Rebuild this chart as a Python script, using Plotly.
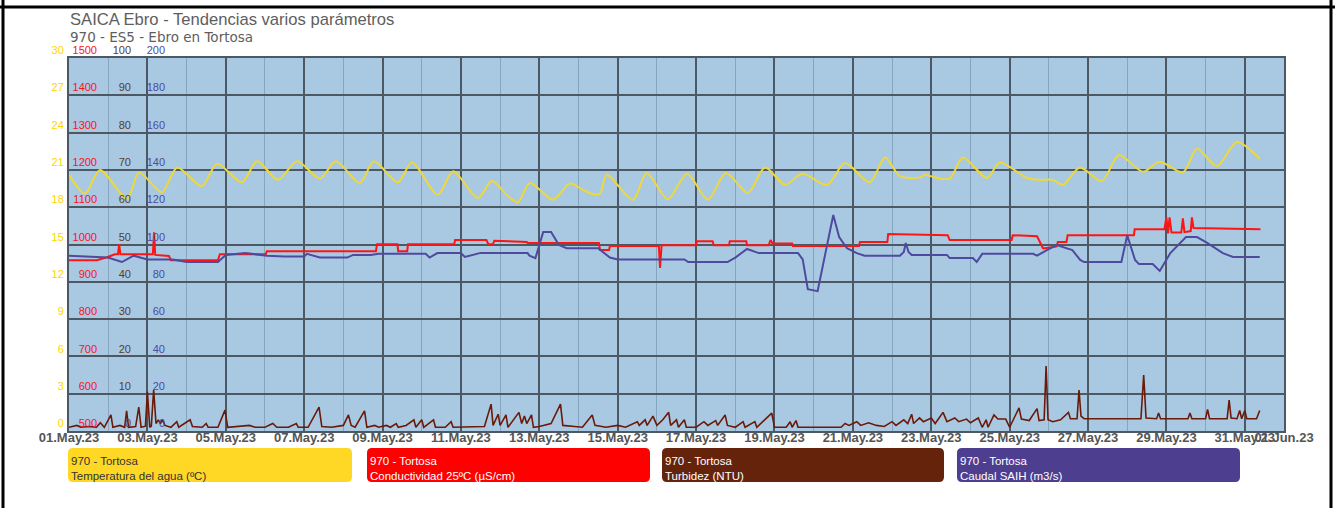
import pandas as pd
import plotly.graph_objects as go

# ---------------- data (days since 2023-05-01 00:00) ----------------
START = pd.Timestamp("2023-05-01")

temp_day = [0, 0.41, 0.79, 1.48, 1.79, 2.37, 2.76, 3.39, 3.78, 4.41,
            4.80, 5.33, 5.82, 6.40, 6.81, 7.42, 7.78, 8.39, 8.75, 9.41,
            9.80, 10.43, 10.79, 11.20, 11.45, 11.76, 12.35, 12.78, 13.11, 13.37,
            13.55, 13.72, 14.39, 14.74, 15.28, 15.77, 16.30, 16.76, 17.32, 17.76,
            18.27, 18.70, 19.34, 19.80, 20.43, 20.82, 21.20, 21.71, 21.84, 22.09,
            22.47, 22.81, 23.42, 23.75, 24.44, 24.77, 25.10, 25.36, 25.79, 26.35,
            26.79, 27.40, 27.83, 28.42, 28.78, 29.29, 29.80, 30.38]
temp_val = [20.6, 19.1, 21.0, 18.7, 20.8, 19.2, 21.2, 19.7, 21.5, 20.0,
            21.7, 20.2, 21.7, 20.3, 21.7, 19.95, 21.7, 20.0, 21.6, 19.0,
            20.9, 18.75, 20.1, 18.9, 18.4, 19.95, 18.6, 19.9, 19.4, 19.05,
            19.1, 20.6, 18.6, 20.75, 18.65, 20.7, 18.6, 20.75, 19.15, 21.2,
            19.8, 20.7, 19.8, 21.55, 20.0, 22.0, 20.5, 20.4, 20.6, 20.4,
            20.3, 22.0, 20.35, 21.6, 20.35, 20.2, 20.2, 19.8, 21.2, 20.1,
            22.2, 20.85, 21.65, 20.8, 22.7, 21.3, 23.25, 21.9]

cond_day = [0, 0.71, 0.97, 1.17, 1.25, 1.28, 1.31, 2.14, 2.17, 2.20,
            2.55, 2.6, 3.8, 3.85, 5.02, 5.05, 7.83, 7.86, 8.38, 8.4,
            8.63, 8.65, 9.83, 9.85, 10.65, 10.7, 10.82, 10.85, 11.68, 11.7,
            13.52, 13.55, 13.78, 13.8, 15.05, 15.08, 15.12, 16.0, 16.02, 16.42,
            16.45, 16.84, 16.86, 17.28, 17.3, 17.85, 17.9, 17.95, 18.45, 18.47,
            20.16, 20.18, 20.88, 20.9, 22.42, 22.47, 24.05, 24.08, 24.7, 24.85,
            24.9, 25.2, 25.23, 25.45, 25.48, 27.17, 27.19, 27.95, 28.0, 28.04,
            28.08, 28.13, 28.38, 28.42, 28.46, 28.62, 28.65, 28.69, 30.4]
cond_val = [958, 958, 966, 974, 974, 1001, 974, 974, 1033, 972,
            969, 958, 958, 974, 974, 982, 982, 1001, 1001, 982,
            982, 1001, 1001, 1012, 1012, 1001, 1001, 1010, 1007, 1004,
            1004, 985, 985, 996, 996, 937, 998, 998, 1009, 1009,
            998, 998, 1009, 1009, 998, 998, 1012, 1003, 1003, 996,
            996, 1007, 1007, 1028, 1025, 1012, 1012, 1025, 1022, 990,
            990, 995, 1007, 1007, 1025, 1025, 1041, 1041, 1073, 1030,
            1073, 1032, 1032, 1070, 1033, 1036, 1073, 1044, 1041]

turb_day = [0, 0.2, 0.3, 0.5, 0.7, 0.8, 0.9, 1.07, 1.12, 1.3,
            1.42, 1.47, 1.52, 1.7, 1.78, 1.84, 1.95, 2.0, 2.06, 2.1,
            2.16, 2.22, 2.28, 2.33, 2.38, 2.45, 2.6, 2.75, 2.8, 3.09,
            3.15, 3.4, 3.5, 3.55, 3.8, 3.98, 4.05, 4.3, 4.6, 4.75,
            5.0, 5.2, 5.3, 5.6, 5.8, 5.85, 6.1, 6.38, 6.45, 6.7,
            7.0, 7.13, 7.2, 7.3, 7.54, 7.6, 7.8, 7.9, 8.1, 8.2,
            8.35, 8.4, 8.6, 8.8, 8.85, 9.0, 9.05, 9.3, 9.35, 9.6,
            9.75, 9.8, 10.3, 10.6, 10.77, 10.82, 10.95, 11.0, 11.15, 11.2,
            11.48, 11.55, 11.62, 11.68, 11.8, 11.85, 12.0, 12.3, 12.54, 12.6,
            12.9, 13.1, 13.35, 13.42, 13.7, 14.0, 14.2, 14.5, 14.55, 14.7,
            14.75, 14.9, 15.0, 15.15, 15.3, 15.35, 15.5, 15.55, 15.7, 15.75,
            16.0, 16.2, 16.3, 16.5, 16.55, 16.74, 16.8, 17.0, 17.2, 17.25,
            17.5, 17.55, 17.93, 18.0, 18.3, 18.4, 18.45, 18.55, 18.6, 18.75,
            19.7, 19.8, 19.9, 20.1, 20.2, 20.4, 20.6, 20.8, 21.0, 21.1,
            21.3, 21.4, 21.5, 21.55, 21.7, 21.8, 22.0, 22.1, 22.3, 22.4,
            22.6, 22.7, 22.9, 23.0, 23.2, 23.3, 23.4, 23.45, 23.55, 23.6,
            23.7, 23.9, 24.0, 24.1, 24.24, 24.3, 24.5, 24.7, 24.75, 24.88,
            24.93, 24.98, 25.1, 25.3, 25.5, 25.55, 25.72, 25.77, 25.82, 25.9,
            27.35, 27.42, 27.48, 27.75, 27.8, 27.85, 28.55, 28.6, 28.65, 29.0,
            29.05, 29.1, 29.55, 29.6, 29.65, 29.8, 29.87, 29.92, 30.0, 30.05,
            30.3, 30.38]
turb_val = [1, 1.5, 1, 1.2, 1, 2.2, 1, 4.3, 1, 1.5,
            1, 5.4, 1, 1.2, 6.4, 1, 1.3, 10.5, 1, 1.3,
            11, 2, 3, 2, 3, 1.5, 1, 2.5, 1, 3,
            1.2, 1, 2, 1, 1, 5.6, 1, 1.2, 1.5, 1,
            1, 2, 1, 1, 2, 1, 1, 6.4, 1.2, 1,
            1.5, 4.3, 1.5, 1, 5.4, 1, 1.5, 1, 1.5, 1,
            2, 1, 1.5, 3, 1, 3, 1, 3, 1, 1,
            2.5, 1, 1, 1.2, 7.2, 1.5, 4.5, 1.5, 4.3, 1,
            5, 2, 4, 2, 4.3, 1, 1.2, 2, 7.2, 1.5,
            1.2, 1, 4.3, 1.5, 1, 1.5, 1, 2.5, 1.5, 3,
            1.5, 4, 1.5, 3, 5, 1.5, 3, 1, 3, 1,
            1, 2.5, 1.5, 2.8, 1.5, 4.3, 1.5, 1, 2.5, 1,
            2.5, 1, 4.8, 1, 1, 2.5, 1, 2.8, 1, 1,
            1, 2, 1.5, 2.5, 1.5, 2.2, 1.5, 1.2, 2.5, 1.5,
            3, 2, 4.5, 2, 3.5, 2.5, 3.5, 2, 5, 2.5,
            3.5, 2.5, 3.2, 2.2, 3.5, 1, 3, 1, 3.2, 4.3,
            3.2, 3.2, 1, 3.2, 6.2, 3.2, 2.8, 6, 2.8, 3,
            17.4, 3, 2.5, 3, 5, 3.3, 3.3, 11, 4, 3.3,
            3.3, 15, 3.5, 3.3, 4.8, 3.3, 3.3, 4.8, 3.3, 3.3,
            5.8, 3.3, 3.3, 8.3, 3.5, 3.3, 5.5, 3.3, 5.5, 3.3,
            3.3, 5.5]

flow_day = [0, 0.99, 1.35, 1.65, 2.0, 2.65, 3.0, 3.8, 4.0, 4.5,
            5.05, 5.5, 6.0, 6.07, 6.4, 7.1, 7.25, 7.7, 7.9, 9.1,
            9.2, 9.4, 10.0, 10.1, 10.5, 11.0, 11.7, 11.75, 11.9, 12.1,
            12.3, 12.5, 12.7, 13.5, 13.8, 14.0, 15.7, 15.8, 16.8, 17.0,
            17.3, 17.6, 18.6, 18.72, 18.85, 19.1, 19.25, 19.5, 19.65, 19.85,
            20.1, 20.3, 21.2, 21.3, 21.35, 21.42, 21.5, 22.4, 22.47, 23.06,
            23.16, 23.3, 24.6, 24.7, 24.95, 25.2, 25.6, 25.8, 25.9, 26.85,
            27.0, 27.2, 27.3, 27.65, 27.83, 28.1, 28.5, 28.78, 29.03, 29.44,
            29.7, 30.38]
flow_val = [94, 93, 90.6, 94, 92, 92, 90.6, 90.6, 94.4, 95.4,
            94, 93.5, 93.5, 95, 93, 93, 94.4, 94.4, 95, 95,
            93, 95.4, 95.4, 93.3, 95.5, 95.4, 95.4, 94, 92.7, 106.7,
            106.7, 99.7, 98, 98, 93, 92, 92, 90.6, 90.6, 93,
            97.6, 95.4, 95.4, 92, 76, 75, 90, 115.8, 104, 98,
            95.4, 94, 94, 96, 100.8, 96, 94.4, 94.4, 92.7, 92.7,
            90.6, 95, 95, 94, 97, 99.7, 97, 91.7, 90.6, 90.6,
            105, 91.7, 89.5, 89.5, 85.8, 95.4, 104, 104, 101, 95.4,
            93.3, 93.3]

tick_dates = ["2023-05-%02d" % d for d in range(1, 32, 2)] + ["2023-06-01"]
tick_text = ["%02d.May.23" % d for d in range(1, 32, 2)] + ["01.Jun.23"]

series_names = ["Temperatura del agua (ºC)", "Conductividad 25ºC (µS/cm)",
                "Turbidez (NTU)", "Caudal SAIH (m3/s)"]
station = "970 - Tortosa"


def to_time(days):
    return START + pd.to_timedelta(days, unit="D")


# ---------------- styling ----------------
C_TEMP = "#EED83A"
C_COND = "#FF1414"
C_TURB = "#6B1A0A"
C_FLOW = "#4E4A9E"
GRID = "#4C5864"
BG = "#A9C9E2"
FONT = "Liberation Sans, Arial, sans-serif"
FONT_WIDE = "DejaVu Sans, Verdana, sans-serif"

W, H = 1335, 508
L, R, T, B = 69, 51, 58, 77
PW, PH = W - L - R, H - T - B


def px(x):
    return (x - L) / PW


def py(y):
    return (H - B - y) / PH


fig = go.Figure()
fig.add_trace(go.Scatter(x=to_time(temp_day), y=temp_val, mode="lines",
                         line=dict(color=C_TEMP, width=2, shape="spline", smoothing=0.8),
                         yaxis="y", name=series_names[0]))
fig.add_trace(go.Scatter(x=to_time(cond_day), y=cond_val, mode="lines",
                         line=dict(color=C_COND, width=2),
                         yaxis="y2", name=series_names[1]))
fig.add_trace(go.Scatter(x=to_time(turb_day), y=turb_val, mode="lines",
                         line=dict(color=C_TURB, width=1.6),
                         yaxis="y3", name=series_names[2]))
fig.add_trace(go.Scatter(x=to_time(flow_day), y=flow_val, mode="lines",
                         line=dict(color=C_FLOW, width=2),
                         yaxis="y4", name=series_names[3]))

common_y = dict(ticks="", zeroline=False, showgrid=False,
                ticklabelposition="outside top", ticklabelstandoff=0)

fig.update_layout(
    width=W, height=H,
    margin=dict(l=L, r=R, t=T, b=B),
    paper_bgcolor="white", plot_bgcolor=BG,
    showlegend=False,
    font=dict(family=FONT),
    xaxis=dict(type="date", range=[START, pd.Timestamp("2023-06-01")],
               tickmode="array", tickvals=tick_dates, ticktext=tick_text, tickangle=0,
               tickfont=dict(size=13, color="#555555", family=FONT, weight="bold"),
               ticks="", showgrid=True, gridcolor=GRID, gridwidth=2,
               showline=True, linecolor=GRID, linewidth=2, mirror=True,
               zeroline=False, ticklabelstandoff=-7,
               minor=dict(tickmode="linear", tick0="2023-05-02", dtick=86400000,
                          showgrid=True, gridcolor="#86A6BF", gridwidth=1)),
    yaxis=dict(range=[0, 30], tickmode="array", tickvals=list(range(0, 31, 3)),
               tickfont=dict(size=11, color="#FFD400", family=FONT),
               ticks="", zeroline=False, showgrid=True, gridcolor=GRID, gridwidth=2,
               showline=True, linecolor=GRID, linewidth=2, mirror=True,
               ticklabelposition="outside top", ticklabelstandoff=1),
    yaxis2=dict(range=[500, 1500], tickmode="array", tickvals=list(range(500, 1501, 100)),
                overlaying="y", anchor="free", position=px(97), side="left",
                tickfont=dict(size=11, color="#F01818", family=FONT), **common_y),
    yaxis3=dict(range=[0, 100], tickmode="array", tickvals=list(range(0, 101, 10)),
                overlaying="y", anchor="free", position=px(131), side="left",
                tickfont=dict(size=11, color="#5A3A30", family=FONT), **common_y),
    yaxis4=dict(range=[0, 200], tickmode="array", tickvals=list(range(0, 201, 20)),
                overlaying="y", anchor="free", position=px(165), side="left",
                tickfont=dict(size=11, color="#4E4A9E", family=FONT), **common_y),
)

# title texts
fig.add_annotation(text="SAICA Ebro - Tendencias varios parámetros", xref="paper", yref="paper",
                   x=px(68), y=py(20), xanchor="left", yanchor="middle", showarrow=False,
                   font=dict(size=16.6, color="#5E5E5E", family=FONT))
fig.add_annotation(text="970 - ES5 - Ebro en Tortosa", xref="paper", yref="paper",
                   x=px(68), y=py(37), xanchor="left", yanchor="middle", showarrow=False,
                   font=dict(size=13.5, color="#5E5E5E", family=FONT_WIDE))


def rounded_rect(x0, y0, x1, y1, r=5):
    # pixel corners -> paper path
    def P(x, y):
        return "%.5f,%.5f" % (px(x), py(y))
    return ("M " + P(x0 + r, y0) + " L " + P(x1 - r, y0) + " Q " + P(x1, y0) + " " + P(x1, y0 + r) +
            " L " + P(x1, y1 - r) + " Q " + P(x1, y1) + " " + P(x1 - r, y1) +
            " L " + P(x0 + r, y1) + " Q " + P(x0, y1) + " " + P(x0, y1 - r) +
            " L " + P(x0, y0 + r) + " Q " + P(x0, y0) + " " + P(x0 + r, y0) + " Z")


legend_boxes = [(68, 352, "#FFD826", "#333333"),
                (367, 650, "#FF0000", "white"),
                (662, 944, "#66230C", "white"),
                (957, 1240, "#4E3E8F", "white")]
for (x0, x1, fill, tcol), name in zip(legend_boxes, series_names):
    fig.add_shape(type="path", path=rounded_rect(x0, 448, x1, 482), xref="paper", yref="paper",
                  fillcolor=fill, line=dict(width=0), layer="above")
    fig.add_annotation(text=station + "<br>" + name, xref="paper", yref="paper",
                       x=px(x0 + 2), y=py(468), align="left",
                       xanchor="left", yanchor="middle", showarrow=False, borderpad=0,
                       font=dict(size=11.5, color=tcol, family=FONT))

# outer frame lines
fig.add_shape(type="line", xref="paper", yref="paper", x0=px(0), x1=px(W), y0=py(7), y1=py(7),
              line=dict(color="black", width=3))
fig.add_shape(type="line", xref="paper", yref="paper", x0=px(3), x1=px(3), y0=py(0), y1=py(H),
              line=dict(color="black", width=3))
fig.add_shape(type="line", xref="paper", yref="paper", x0=px(1331), x1=px(1331), y0=py(0), y1=py(H),
              line=dict(color="black", width=3))

fig.write_html("out.html", config={"displayModeBar": False},
               post_script="document.body.style.margin='0';document.body.style.overflow='hidden';")
